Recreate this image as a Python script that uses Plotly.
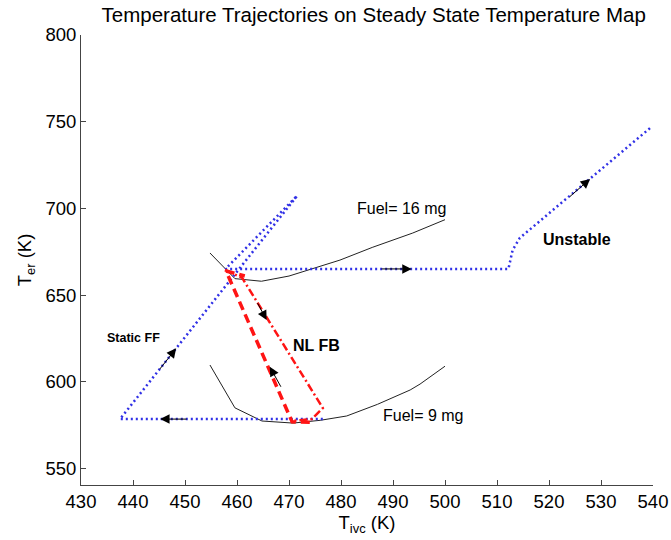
import plotly.graph_objects as go

# Steady-state temperature curves for two fuel levels
fuel16_tivc = [454.8, 459.6, 464.7, 470.0, 479.8, 486.0, 493.8, 500.0]
fuel16_ter = [674.3, 659.5, 658.0, 661.0, 670.2, 677.5, 685.8, 693.5]
fuel9_tivc = [454.8, 459.6, 464.8, 470.8, 476.0, 481.1, 487.0, 493.3, 495.2, 500.0]
fuel9_ter = [609.7, 585.0, 577.4, 576.2, 577.8, 580.3, 587.0, 595.3, 598.7, 609.0]

# Open-loop (unstable) trajectory
unstable_tivc = [471.3, 457.8, 512.2, 513.0, 514.4, 539.7]
unstable_ter = [706.5, 665.1, 665.1, 676.0, 683.0, 747.0]

# Static feed-forward trajectory
staticff_tivc = [476.5, 437.5, 471.5]
staticff_ter = [578.5, 578.5, 707.0]

# Nonlinear feedback trajectories (down and back up)
nlfb_down_tivc = [457.7, 461.0, 476.5, 474.4, 470.6]
nlfb_down_ter = [664.5, 659.9, 584.9, 578.5, 577.4]
nlfb_up_tivc = [474.0, 470.6, 457.9, 461.5]
nlfb_up_ter = [576.7, 576.9, 663.9, 661.0]

# Direction arrows: (tail T_ivc, tail T_er, head T_ivc, head T_er)
arrows = [
    (487.5, 665.1, 493.6, 665.1),
    (523.7, 706.0, 527.9, 717.0),
    (450.6, 578.5, 445.2, 578.5),
    (444.9, 606.4, 448.3, 619.3),
    (463.8, 646.2, 465.7, 635.6),
    (468.6, 596.3, 466.3, 608.7),
]

# Text labels
labels = [
    ("Fuel= 16 mg", 491.7, 700.2, False, 16),
    ("Fuel= 9 mg", 495.8, 580.3, False, 16),
    ("Unstable", 525.4, 681.8, True, 16),
    ("NL FB", 475.2, 621.0, True, 16),
    ("Static FF", 440.0, 625.0, True, 12.5),
]

xticks = list(range(430, 541, 10))
yticks = list(range(550, 801, 50))

FONT = "Arial, Liberation Sans, Helvetica, sans-serif"
BLUE = "#3030e6"
RED = "#ff1414"
BLACK = "#222222"

fig = go.Figure()

fig.add_trace(go.Scatter(x=fuel16_tivc, y=fuel16_ter, mode="lines",
                         line=dict(color=BLACK, width=1)))
fig.add_trace(go.Scatter(x=fuel9_tivc, y=fuel9_ter, mode="lines",
                         line=dict(color=BLACK, width=1)))
fig.add_trace(go.Scatter(x=unstable_tivc, y=unstable_ter, mode="lines",
                         line=dict(color=BLUE, width=2.5, dash="2px,3px")))
fig.add_trace(go.Scatter(x=staticff_tivc, y=staticff_ter, mode="lines",
                         line=dict(color=BLUE, width=2.5, dash="2px,3px")))
fig.add_trace(go.Scatter(x=nlfb_down_tivc, y=nlfb_down_ter, mode="lines",
                         line=dict(color=RED, width=2.5, dash="8px,3px,2px,3px")))
fig.add_trace(go.Scatter(x=nlfb_up_tivc, y=nlfb_up_ter, mode="lines",
                         line=dict(color=RED, width=3.5, dash="9px,5px")))

for tx, ty, hx, hy in arrows:
    fig.add_annotation(x=hx, y=hy, ax=tx, ay=ty, xref="x", yref="y",
                       axref="x", ayref="y", text="", showarrow=True,
                       arrowhead=2, arrowsize=1.9, arrowwidth=1,
                       arrowcolor="black", standoff=0, startstandoff=0)

for text, lx, ly, bold, size in labels:
    fig.add_annotation(x=lx, y=ly, xref="x", yref="y",
                       text=f"<b>{text}</b>" if bold else text,
                       showarrow=False, font=dict(family=FONT, size=size, color="black"))

fig.update_layout(
    width=671, height=540,
    margin=dict(l=81, r=18, t=35, b=55),
    paper_bgcolor="white", plot_bgcolor="white",
    showlegend=False,
    font=dict(family=FONT, color="black"),
    title=dict(text="Temperature Trajectories on Steady State Temperature Map",
               x=(81 + 653) / 2 / 671 + 0.01, xanchor="center", y=1 - 15 / 540, yanchor="middle",
               font=dict(family=FONT, size=20.5, color="black")),
    xaxis=dict(range=[430, 540], tickvals=xticks, ticks="inside", ticklen=5,
               tickcolor="#444", showline=True, linecolor="#444", linewidth=1,
               showgrid=False, zeroline=False, tickfont=dict(size=18.5),
               automargin=False,
               title=dict(text="T<sub>ivc</sub> (K)", font=dict(size=18.5), standoff=4)),
    yaxis=dict(range=[540.5, 800], tickvals=yticks, ticks="inside", ticklen=5,
               tickcolor="#444", showline=True, linecolor="#444", linewidth=1,
               showgrid=False, zeroline=False, tickfont=dict(size=18.5),
               automargin=False,
               title=dict(text="T<sub>er</sub> (K)", font=dict(size=18.5), standoff=8)),
)

fig.write_html("out.html")
